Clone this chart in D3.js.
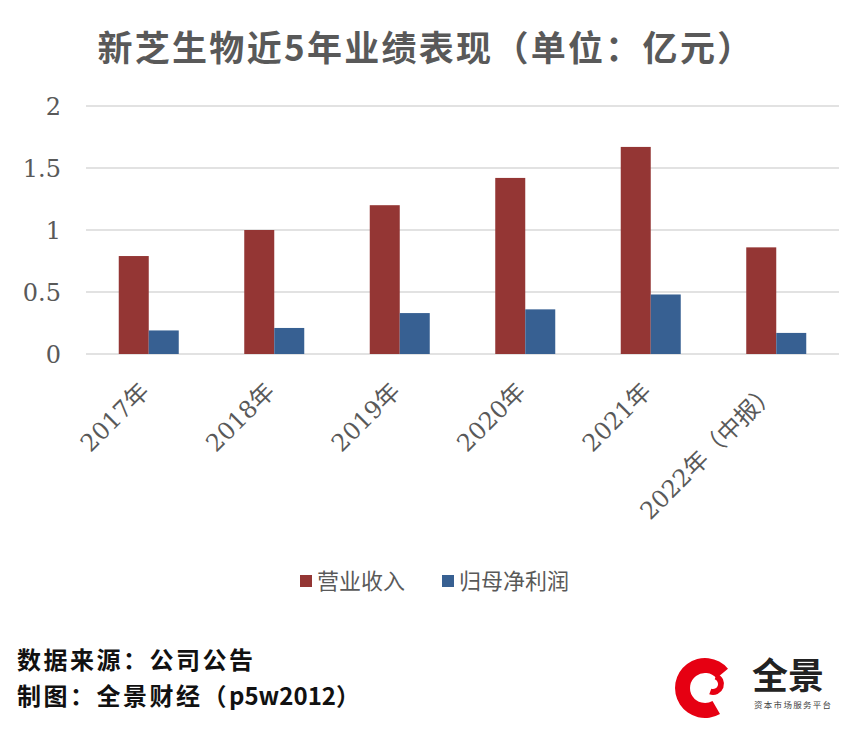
<!DOCTYPE html>
<html>
<head>
<meta charset="utf-8">
<title>新芝生物近5年业绩表现</title>
<script src="https://cdn.jsdelivr.net/npm/d3@7"></script>
<style>
  html, body { margin: 0; padding: 0; background: #fff; }
  svg { display: block; }
  .title { font-family: "Noto Sans CJK SC", sans-serif; font-weight: 700; font-size: 35px; fill: #595959; letter-spacing: 2.3px; }
  .ytick { font-family: "DejaVu Serif", "Noto Sans CJK SC", serif; font-size: 24px; fill: #595959; }
  .xtick { font-family: "DejaVu Serif", "Noto Sans CJK SC", serif; font-size: 24px; fill: #595959; }
  .legend { font-family: "Noto Sans CJK SC", sans-serif; font-size: 22px; fill: #595959; }
  .foot { font-family: "Noto Sans CJK SC", sans-serif; font-weight: 700; font-size: 24px; fill: #111; }
  .foot .cjk { letter-spacing: 2.5px; }
  .grid { stroke: #d9d9d9; stroke-width: 1.5px; }
</style>
</head>
<body>
<script>
// values in 亿元
var categories = ["2017年", "2018年", "2019年", "2020年", "2021年", "2022年（中报）"];
var seriesNames = ["营业收入", "归母净利润"];
var revenue = [0.79, 1.00, 1.20, 1.42, 1.67, 0.86];
var netProfit = [0.19, 0.21, 0.33, 0.36, 0.48, 0.17];
var yTicks = [0, 0.5, 1, 1.5, 2];
var colors = ["#943634", "#376092"];

var width = 863, height = 732;

var svg = d3.select("body").append("svg")
    .attr("width", width)
    .attr("height", height);

svg.append("text")
    .attr("class", "title")
    .attr("x", 426)
    .attr("y", 61)
    .attr("text-anchor", "middle")
    .text("新芝生物近5年业绩表现（单位：亿元）");

var x = d3.scaleBand().domain(categories).range([86, 839]);
var xs = d3.scaleBand().domain(seriesNames)
    .range([x.bandwidth() / 2 - 30, x.bandwidth() / 2 + 30]);
var y = d3.scaleLinear().domain([0, 2]).range([354, 106]);

// gridlines + y labels
svg.append("g").selectAll("line")
    .data(yTicks)
    .enter().append("line")
    .attr("class", "grid")
    .attr("x1", 86).attr("x2", 839)
    .attr("y1", function(d) { return y(d); })
    .attr("y2", function(d) { return y(d); });

svg.append("g").selectAll("text")
    .data(yTicks)
    .enter().append("text")
    .attr("class", "ytick")
    .attr("x", 61)
    .attr("y", function(d) { return y(d); })
    .attr("dy", "0.36em")
    .attr("text-anchor", "end")
    .text(function(d) { return d; });

// bars
var rows = categories.map(function(c, i) {
  return { cat: c, values: [revenue[i], netProfit[i]] };
});

var groups = svg.append("g").selectAll("g")
    .data(rows)
    .enter().append("g")
    .attr("transform", function(d) { return "translate(" + x(d.cat) + ",0)"; });

groups.selectAll("rect")
    .data(function(d) { return d.values.map(function(v, j) { return { s: seriesNames[j], v: v, j: j }; }); })
    .enter().append("rect")
    .attr("x", function(d) { return xs(d.s); })
    .attr("width", xs.bandwidth())
    .attr("y", function(d) { return y(d.v); })
    .attr("height", function(d) { return y(0) - y(d.v); })
    .attr("fill", function(d) { return colors[d.j]; });

// rotated category labels
svg.append("g").selectAll("text")
    .data(categories)
    .enter().append("text")
    .attr("class", "xtick")
    .attr("text-anchor", "end")
    .attr("transform", function(d) {
      return "translate(" + (x(d) + x.bandwidth() / 2 + 2) + ",393) rotate(-45)";
    })
    .text(function(d) { return d; });

// legend
var legendX = [300, 442];
var legend = svg.append("g").selectAll("g")
    .data(seriesNames)
    .enter().append("g")
    .attr("transform", function(d, i) { return "translate(" + legendX[i] + ",575)"; });
legend.append("rect")
    .attr("width", 12).attr("height", 12)
    .attr("fill", function(d, i) { return colors[i]; });
legend.append("text")
    .attr("class", "legend")
    .attr("x", 17)
    .attr("y", 6)
    .attr("dy", "0.36em")
    .text(function(d) { return d; });

// footer
var f1 = svg.append("text").attr("class", "foot").attr("x", 17).attr("y", 669);
f1.append("tspan").attr("class", "cjk").text("数据来源：公司公告");
var f2 = svg.append("text").attr("class", "foot").attr("x", 17).attr("y", 705);
f2.append("tspan").attr("class", "cjk").text("制图：全景财经（");
f2.append("tspan").text("p5w2012");
f2.append("tspan").text("）");

// logo, roughly
var logo = svg.append("g").attr("transform", "translate(705,688)");
logo.append("path")
    .attr("d", d3.arc().innerRadius(15).outerRadius(30)
      .startAngle(150 * Math.PI / 180).endAngle(410 * Math.PI / 180)())
    .attr("fill", "#e60012");
logo.append("path")
    .attr("transform", "translate(8,-4)")
    .attr("d", d3.arc().innerRadius(5).outerRadius(11)
      .startAngle(20 * Math.PI / 180).endAngle(200 * Math.PI / 180)())
    .attr("fill", "#e60012");
svg.append("text")
    .attr("x", 752).attr("y", 689)
    .style("font-family", "Noto Sans CJK SC").style("font-weight", 700)
    .style("font-size", "36px").style("fill", "#222")
    .text("全景");
svg.append("text")
    .attr("x", 754).attr("y", 708)
    .style("font-family", "Noto Sans CJK SC")
    .style("font-size", "8.5px").style("fill", "#444").style("letter-spacing", "1.3px")
    .text("资本市场服务平台");
</script>
</body>
</html>
